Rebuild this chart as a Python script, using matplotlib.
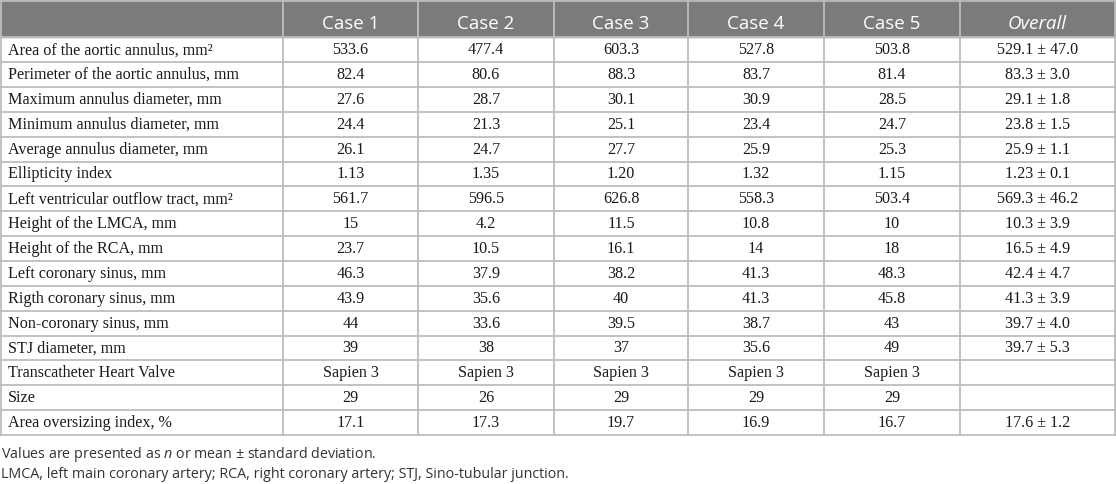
import matplotlib
matplotlib.use("Agg")
import matplotlib.pyplot as plt
from matplotlib.patches import Rectangle

# Table content
col_headers = ["", "Case 1", "Case 2", "Case 3", "Case 4", "Case 5", "Overall"]
row_labels = [
    "Area of the aortic annulus, mm²",
    "Perimeter of the aortic annulus, mm",
    "Maximum annulus diameter, mm",
    "Minimum annulus diameter, mm",
    "Average annulus diameter, mm",
    "Ellipticity index",
    "Left ventricular outflow tract, mm²",
    "Height of the LMCA, mm",
    "Height of the RCA, mm",
    "Left coronary sinus, mm",
    "Rigth coronary sinus, mm",
    "Non-coronary sinus, mm",
    "STJ diameter, mm",
    "Transcatheter Heart Valve",
    "Size",
    "Area oversizing index, %",
]
case1 = ["533.6", "82.4", "27.6", "24.4", "26.1", "1.13", "561.7", "15", "23.7",
         "46.3", "43.9", "44", "39", "Sapien 3", "29", "17.1"]
case2 = ["477.4", "80.6", "28.7", "21.3", "24.7", "1.35", "596.5", "4.2", "10.5",
         "37.9", "35.6", "33.6", "38", "Sapien 3", "26", "17.3"]
case3 = ["603.3", "88.3", "30.1", "25.1", "27.7", "1.20", "626.8", "11.5", "16.1",
         "38.2", "40", "39.5", "37", "Sapien 3", "29", "19.7"]
case4 = ["527.8", "83.7", "30.9", "23.4", "25.9", "1.32", "558.3", "10.8", "14",
         "41.3", "41.3", "38.7", "35.6", "Sapien 3", "29", "16.9"]
case5 = ["503.8", "81.4", "28.5", "24.7", "25.3", "1.15", "503.4", "10", "18",
         "48.3", "45.8", "43", "49", "Sapien 3", "29", "16.7"]
overall = ["529.1 ± 47.0", "83.3 ± 3.0", "29.1 ± 1.8", "23.8 ± 1.5", "25.9 ± 1.1",
           "1.23 ± 0.1", "569.3 ± 46.2", "10.3 ± 3.9", "16.5 ± 4.9", "42.4 ± 4.7",
           "41.3 ± 3.9", "39.7 ± 4.0", "39.7 ± 5.3", "", "", "17.6 ± 1.2"]
footnotes = [
    r"Values are presented as $\mathit{n}$ or mean $\pm$ standard deviation.",
    "LMCA, left main coronary artery; RCA, right coronary artery; STJ, Sino-tubular junction.",
]

# Layout (pixels)
W, H = 1116, 484
col_widths = [283, 135, 136, 134, 136, 136, 155]
header_h = 37.3
row_h = 24.85
header_bg = "#7b7b7b"
grid_color = "#bdbdbd"

plt.rcParams["mathtext.fontset"] = "custom"
plt.rcParams["mathtext.it"] = "Open Sans:italic"
plt.rcParams["mathtext.rm"] = "Open Sans"

fig = plt.figure(figsize=(W / 100, H / 100), dpi=100)
ax = fig.add_axes([0, 0, 1, 1])
ax.set_xlim(0, W)
ax.set_ylim(H, 0)
ax.axis("off")

x_edges = [0]
for w in col_widths:
    x_edges.append(x_edges[-1] + w)
x_edges[-1] = W - 1
n_rows = len(row_labels)
table_bottom = header_h + n_rows * row_h

# Header background
ax.add_patch(Rectangle((0, 0), W, header_h, color=header_bg, zorder=0))

# Header text
for j, name in enumerate(col_headers):
    if not name:
        continue
    xc = (x_edges[j] + x_edges[j + 1]) / 2
    ax.text(xc, 24, name, ha="center", va="center", color="white",
            fontsize=13.5, family="Open Sans",
            style="italic" if name == "Overall" else "normal")

# Body
columns = [row_labels, case1, case2, case3, case4, case5, overall]
for i in range(n_rows):
    yc = header_h + (i + 0.5) * row_h
    for j, col in enumerate(columns):
        if j == 0:
            ax.text(x_edges[0] + 8, yc + 0.5, col[i], ha="left", va="center",
                    fontsize=11.6, family="Liberation Serif", color="#1a1a1a")
        else:
            xc = (x_edges[j] + x_edges[j + 1]) / 2
            ax.text(xc, yc + 0.5, col[i], ha="center", va="center",
                    fontsize=11.6, family="Liberation Serif", color="#1a1a1a")

# Grid lines
for i in range(n_rows + 1):
    y = header_h + i * row_h
    ax.plot([0, W], [y, y], color=grid_color, lw=1.3, zorder=2)
ax.plot([0, W], [0.7, 0.7], color=grid_color, lw=1.3, zorder=2)
for x in x_edges:
    ax.plot([x + 0.6 if x == 0 else x, x + 0.6 if x == 0 else x], [0, table_bottom],
            color=grid_color, lw=1.3, zorder=2)

# Footnotes
ax.text(1, 455, footnotes[0], ha="left", va="center", fontsize=10.3,
        family="Open Sans", color="#333333")
ax.text(1, 474.5, footnotes[1], ha="left", va="center", fontsize=10.3,
        family="Open Sans", color="#333333")

fig.savefig("out.png", dpi=100, facecolor="white")
